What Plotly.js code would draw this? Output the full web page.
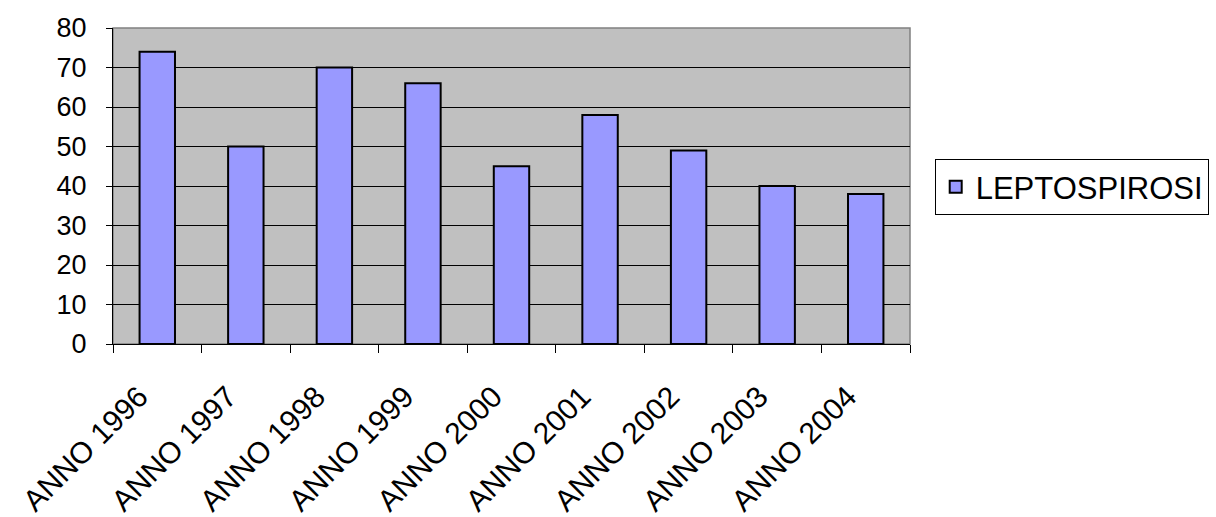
<!DOCTYPE html>
<html>
<head>
<meta charset="utf-8">
<script src="https://cdn.plot.ly/plotly-3.0.1.min.js"></script>
<style>html,body{margin:0;padding:0;background:#fff;}#chart{width:1216px;height:517px;}</style>
</head>
<body>
<div id="chart"></div>
<script>
const categories = ["ANNO 1996","ANNO 1997","ANNO 1998","ANNO 1999","ANNO 2000","ANNO 2001","ANNO 2002","ANNO 2003","ANNO 2004"];
const seriesName = "LEPTOSPIROSI";
const values = [74, 50, 70, 66, 45, 58, 49, 40, 38];
const yTicks = [0,10,20,30,40,50,60,70,80];

const trace = {
  type: "bar",
  x: categories,
  y: values,
  name: seriesName,
  marker: {color: "#9999FF", line: {color: "#000000", width: 2}},
  showlegend: true
};

const layout = {
  width: 1216, height: 517,
  margin: {l: 113, r: 306, t: 28, b: 173, autoexpand: false},
  paper_bgcolor: "#ffffff",
  plot_bgcolor: "#C0C0C0",
  bargap: 0.6,
  font: {family: "Liberation Sans, Arial, sans-serif", size: 27, color: "#000"},
  xaxis: {
    type: "category",
    tickangle: -45,
    ticks: "outside",
    tickson: "boundaries",
    ticklen: 8,
    tickcolor: "#000",
    showline: true, linecolor: "#000", linewidth: 1,
    showgrid: false,
    tickfont: {size: 30},
    ticklabelstandoff: 22,
    ticklabelshift: -18,
    automargin: false
  },
  yaxis: {
    range: [0, 80],
    tickvals: yTicks,
    ticks: "outside",
    ticklen: 6,
    tickcolor: "#000",
    showline: true, linecolor: "#000", linewidth: 1,
    showgrid: true, gridcolor: "#000", gridwidth: 1,
    zeroline: false,
    tickfont: {size: 27},
    ticklabelstandoff: 14,
    automargin: false
  },
  legend: {
    x: 1.031, y: 0.585, xanchor: "left", yanchor: "top",
    bordercolor: "#000", borderwidth: 1, bgcolor: "#fff",
    font: {size: 31}
  },
  shapes: [{
    type: "rect", xref: "paper", yref: "paper", x0: 0, x1: 1, y0: 0, y1: 1,
    line: {color: "#808080", width: 1.5}, layer: "below"
  }]
};

Plotly.newPlot("chart", [trace], layout, {staticPlot: true});
</script>
</body>
</html>
